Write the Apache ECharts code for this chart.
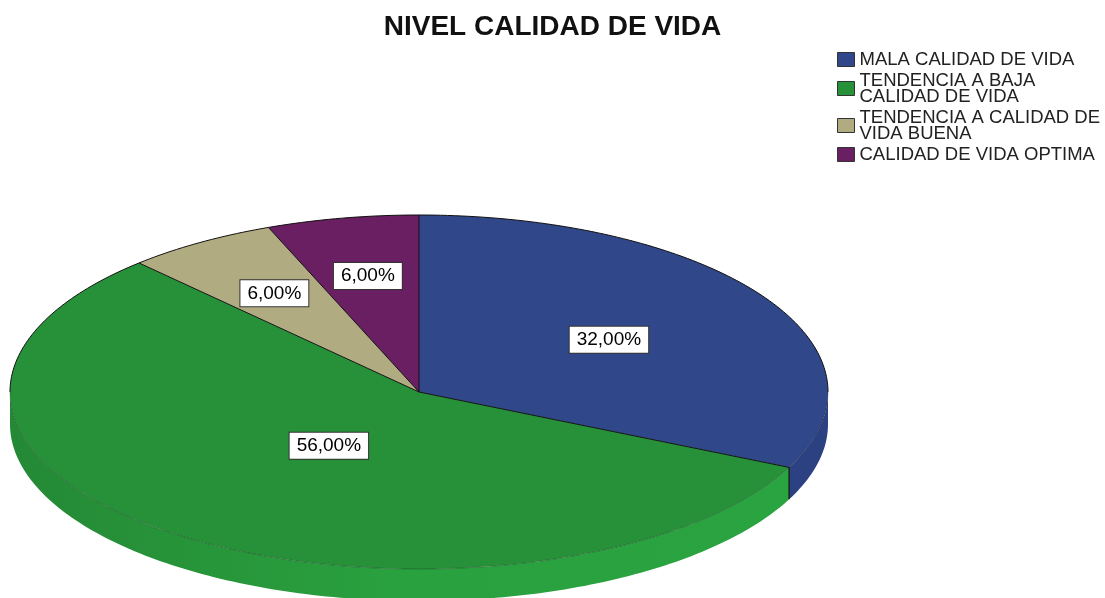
<!DOCTYPE html>
<html lang="es">
<head>
<meta charset="UTF-8" />
<title>Nivel calidad de vida</title>
<style>
  html, body { margin: 0; padding: 0; background: #fff; }
  #main { width: 1105px; height: 598px; }
</style>
</head>
<body>
<div id="main"></div>
<script src="https://cdn.jsdelivr.net/npm/echarts@6/dist/echarts.min.js"></script>
<script>
// datos
var categorias = ["MALA CALIDAD DE VIDA", "TENDENCIA A BAJA CALIDAD DE VIDA", "TENDENCIA A CALIDAD DE VIDA BUENA", "CALIDAD DE VIDA OPTIMA"];
var leyenda = ["MALA CALIDAD DE VIDA", "TENDENCIA A BAJA\nCALIDAD DE VIDA", "TENDENCIA A CALIDAD DE\nVIDA BUENA", "CALIDAD DE VIDA OPTIMA"];
var porcentajes = [32, 56, 6, 6];
var etiquetas = ["32,00%", "56,00%", "6,00%", "6,00%"];

// estilo
var colores = ["#30488a", "#27913a", "#b1ab81", "#6a1f62"];
var lados = [
  "#2b4182",
  { type: "linear", x: 0, y: 0, x2: 1, y2: 0, colorStops: [
    { offset: 0, color: "#248935" }, { offset: 0.5, color: "#2aa13f" }, { offset: 1, color: "#2aa341" }] },
  "#9f9a73",
  "#5c1a55"
];
var radioEtiqueta = [0.55, 0.375, 0.66, 0.667];
var fuente = '"Liberation Sans", Arial, sans-serif';

// geometria del pastel (elipse)
var cx = 419, cy = 392, rx = 409, ry = 177, alto = 32;

var total = porcentajes.reduce(function (a, b) { return a + b; }, 0);
var angIni = [], angFin = [];
var acum = 0;
for (var i = 0; i < porcentajes.length; i++) {
  angIni.push(acum / total * 360);
  acum += porcentajes[i];
  angFin.push(acum / total * 360);
}

function pt(a, dy) {
  var r = a * Math.PI / 180;
  return [cx + rx * Math.sin(r), cy - ry * Math.cos(r) + (dy || 0)];
}
function arco(a0, a1, dy) {
  var p = [];
  var n = Math.max(2, Math.ceil(Math.abs(a1 - a0)));
  for (var k = 0; k <= n; k++) p.push(pt(a0 + (a1 - a0) * k / n, dy));
  return p;
}

function renderItem(params, api) {
  var i = params.seriesIndex;
  var a0 = angIni[i], a1 = angFin[i];
  var hijos = [];

  // lado visible (parte delantera, 90..270)
  var s0 = Math.max(a0, 90), s1 = Math.min(a1, 270);
  if (s1 > s0) {
    hijos.push({
      type: "polygon",
      shape: { points: arco(s0, s1, 0).concat(arco(s1, s0, alto)) },
      style: { fill: lados[i] },
      z2: 1
    });
  }
  if (a0 > 90 && a0 < 270) {
    var p = pt(a0, 0);
    hijos.push({
      type: "line",
      shape: { x1: p[0], y1: p[1], x2: p[0], y2: p[1] + alto },
      style: { stroke: "#111", lineWidth: 1.2 },
      z2: 3
    });
  }

  // cara superior
  hijos.push({
    type: "polygon",
    shape: { points: [[cx, cy]].concat(arco(a0, a1, 0)) },
    style: { fill: colores[i] },
    z2: 2
  });
  // borde radial
  var e = pt(a0, 0);
  hijos.push({
    type: "line",
    shape: { x1: cx, y1: cy, x2: e[0], y2: e[1] },
    style: { stroke: "#111", lineWidth: 1 },
    z2: 3
  });
  // borde exterior: atras negro, delante suave
  var cortes = [[0, 90, "#111"], [90, 270, "rgba(0,0,0,0.25)"], [270, 360, "#111"]];
  cortes.forEach(function (c) {
    var b0 = Math.max(a0, c[0]), b1 = Math.min(a1, c[1]);
    if (b1 > b0) {
      hijos.push({
        type: "polyline",
        shape: { points: arco(b0, b1, 0) },
        style: { stroke: c[2], lineWidth: 1, fill: null },
        z2: 3
      });
    }
  });

  // etiqueta
  var m = pt((a0 + a1) / 2, 0);
  var f = radioEtiqueta[i];
  hijos.push({
    type: "text",
    x: cx + (m[0] - cx) * f,
    y: cy + (m[1] - cy) * f,
    style: {
      text: etiquetas[i],
      fill: "#000",
      font: "19px " + fuente,
      align: "center",
      verticalAlign: "middle",
      backgroundColor: "#fff",
      borderColor: "#333",
      borderWidth: 1,
      padding: [4, 7, 3, 7]
    },
    z2: 10
  });

  return { type: "group", children: hijos };
}

var series = categorias.map(function (nombre, i) {
  return {
    type: "custom",
    name: nombre,
    coordinateSystem: "none",
    silent: true,
    itemStyle: { color: colores[i] },
    renderItem: renderItem,
    data: [[porcentajes[i]]]
  };
});

var myChart = echarts.init(document.getElementById("main"));
var option = {
  animation: false,
  backgroundColor: "#fff",
  title: {
    text: "NIVEL CALIDAD DE VIDA",
    left: "center",
    top: 13,
    padding: 0,
    textStyle: { fontSize: 28, fontWeight: "bold", color: "#111", fontFamily: fuente }
  },
  legend: {
    orient: "vertical",
    left: 837,
    top: 50,
    padding: 0,
    itemWidth: 17,
    itemHeight: 14,
    itemGap: 2,
    icon: "rect",
    selectedMode: false,
    itemStyle: { borderColor: "#333", borderWidth: 1 },
    textStyle: { fontSize: 18.5, lineHeight: 16, color: "#222", fontFamily: fuente },
    formatter: function (name) { return leyenda[categorias.indexOf(name)]; },
    data: categorias
  },
  series: series
};
myChart.setOption(option);
</script>
</body>
</html>
